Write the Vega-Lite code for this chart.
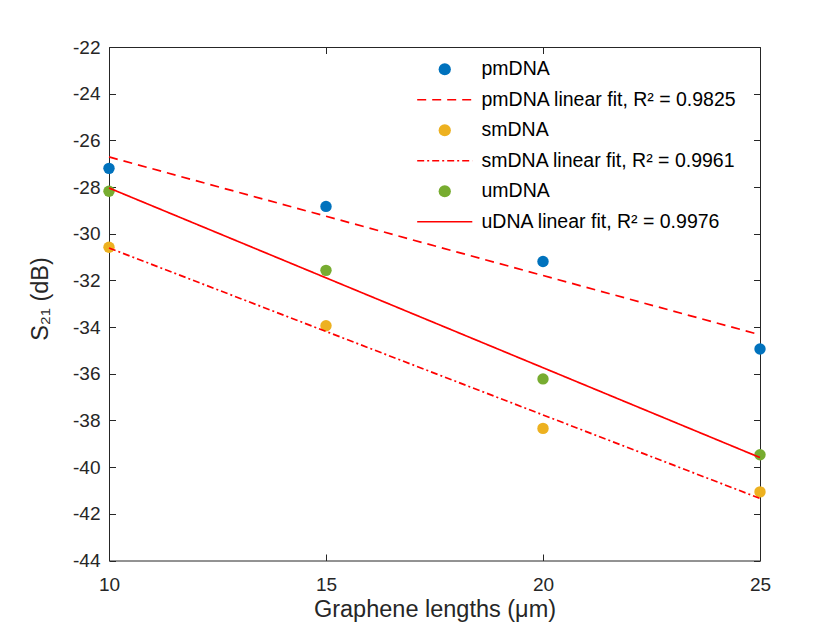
{
  "$schema": "https://vega.github.io/schema/vega-lite/v6.json",
  "width": 651,
  "height": 513.5,
  "autosize": {"type": "none"},
  "padding": {"left": 109, "top": 47, "right": 80, "bottom": 69.5},
  "background": "#FFFFFF",
  "datasets": {
    "points": [
      {"len": 10, "s21": -27.2, "series": "pmDNA"},
      {"len": 15, "s21": -28.83, "series": "pmDNA"},
      {"len": 20, "s21": -31.19, "series": "pmDNA"},
      {"len": 25, "s21": -34.94, "series": "pmDNA"},
      {"len": 10, "s21": -30.58, "series": "smDNA"},
      {"len": 15, "s21": -33.94, "series": "smDNA"},
      {"len": 20, "s21": -38.34, "series": "smDNA"},
      {"len": 25, "s21": -41.06, "series": "smDNA"},
      {"len": 10, "s21": -28.18, "series": "umDNA"},
      {"len": 15, "s21": -31.57, "series": "umDNA"},
      {"len": 20, "s21": -36.22, "series": "umDNA"},
      {"len": 25, "s21": -39.47, "series": "umDNA"}
    ],
    "fits": [
      {"len": 10, "s21": -26.71, "series": "pmDNA linear fit, R² = 0.9825"},
      {"len": 25, "s21": -34.33, "series": "pmDNA linear fit, R² = 0.9825"},
      {"len": 10, "s21": -30.61, "series": "smDNA linear fit, R² = 0.9961"},
      {"len": 25, "s21": -41.34, "series": "smDNA linear fit, R² = 0.9961"},
      {"len": 10, "s21": -28.04, "series": "uDNA linear fit, R² = 0.9976"},
      {"len": 25, "s21": -39.59, "series": "uDNA linear fit, R² = 0.9976"}
    ]
  },
  "layer": [
    {
      "data": {"name": "points"},
      "mark": {"type": "point", "filled": true, "size": 130, "opacity": 1, "strokeWidth": 0},
      "encoding": {
        "x": {
          "field": "len",
          "type": "quantitative",
          "scale": {"domain": [10, 25], "nice": false, "zero": false},
          "axis": {
            "orient": "bottom",
            "values": [10, 15, 20, 25],
            "tickSize": -6.5,
            "labelPadding": 21,
            "labelFlush": false,
            "labelExpr": "toString(datum.value)",
            "title": "Graphene lengths (μm)",
            "titlePadding": 3
          }
        },
        "y": {
          "field": "s21",
          "type": "quantitative",
          "scale": {"domain": [-44, -22], "nice": false, "zero": false},
          "axis": {
            "orient": "left",
            "values": [-44, -42, -40, -38, -36, -34, -32, -30, -28, -26, -24, -22],
            "tickSize": -6.5,
            "labelPadding": 15.5,
            "labelFlush": false,
            "labelExpr": "toString(datum.value)",
            "title": "S₂₁ (dB)",
            "titlePadding": 20,
            "titleY": 251.5
          }
        },
        "fill": {
          "field": "series",
          "type": "nominal",
          "scale": {
            "domain": [
              "pmDNA",
              "pmDNA linear fit, R² = 0.9825",
              "smDNA",
              "smDNA linear fit, R² = 0.9961",
              "umDNA",
              "uDNA linear fit, R² = 0.9976"
            ],
            "range": ["#0072BD", "transparent", "#EDB120", "transparent", "#77AC30", "transparent"]
          },
          "legend": {"title": null}
        },
        "shape": {
          "field": "series",
          "type": "nominal",
          "scale": {
            "domain": [
              "pmDNA",
              "pmDNA linear fit, R² = 0.9825",
              "smDNA",
              "smDNA linear fit, R² = 0.9961",
              "umDNA",
              "uDNA linear fit, R² = 0.9976"
            ],
            "range": ["circle", "M-4.5,0H4.5", "circle", "M-4.5,0H4.5", "circle", "M-4.5,0H4.5"]
          },
          "legend": {"title": null}
        }
      }
    },
    {
      "data": {"name": "fits"},
      "mark": {"type": "line", "strokeWidth": 1.7},
      "encoding": {
        "x": {
          "field": "len",
          "type": "quantitative",
          "axis": {"orient": "top", "values": [10, 15, 20, 25], "tickSize": -6.5, "labels": false, "title": null}
        },
        "y": {
          "field": "s21",
          "type": "quantitative",
          "axis": {
            "orient": "right",
            "values": [-44, -42, -40, -38, -36, -34, -32, -30, -28, -26, -24, -22],
            "tickSize": -6.5,
            "labels": false,
            "title": null
          }
        },
        "stroke": {
          "field": "series",
          "type": "nominal",
          "scale": {
            "domain": [
              "pmDNA",
              "pmDNA linear fit, R² = 0.9825",
              "smDNA",
              "smDNA linear fit, R² = 0.9961",
              "umDNA",
              "uDNA linear fit, R² = 0.9976"
            ],
            "range": ["transparent", "#FF0000", "transparent", "#FF0000", "transparent", "#FF0000"]
          },
          "legend": {"title": null}
        },
        "strokeDash": {
          "field": "series",
          "type": "nominal",
          "scale": {
            "domain": [
              "pmDNA",
              "pmDNA linear fit, R² = 0.9825",
              "smDNA",
              "smDNA linear fit, R² = 0.9961",
              "umDNA",
              "uDNA linear fit, R² = 0.9976"
            ],
            "range": [[1, 0], [9, 6], [1, 0], [7, 3, 2, 3], [1, 0], [1, 0]]
          },
          "legend": {"title": null}
        }
      }
    }
  ],
  "resolve": {"axis": {"x": "independent", "y": "independent"}},
  "config": {
    "view": {"stroke": null},
    "font": "Liberation Sans",
    "legend": {
      "orient": "none",
      "legendX": 298,
      "legendY": 12.5,
      "padding": 0,
      "labelFont": "Liberation Sans",
      "labelFontSize": 19.5,
      "labelColor": "#000000",
      "labelLimit": 500,
      "symbolSize": 150,
      "symbolOffset": 28,
      "labelOffset": 27,
      "rowPadding": 9.5,
      "symbolStrokeWidth": 1.7,
      "symbolOpacity": 1
    },
    "axis": {
      "grid": false,
      "domainColor": "#262626",
      "domainWidth": 1,
      "tickColor": "#262626",
      "tickWidth": 1,
      "labelColor": "#262626",
      "labelFont": "Liberation Sans",
      "labelFontSize": 19,
      "titleColor": "#262626",
      "titleFont": "Liberation Sans",
      "titleFontSize": 23.5,
      "titleFontWeight": "normal"
    }
  }
}
